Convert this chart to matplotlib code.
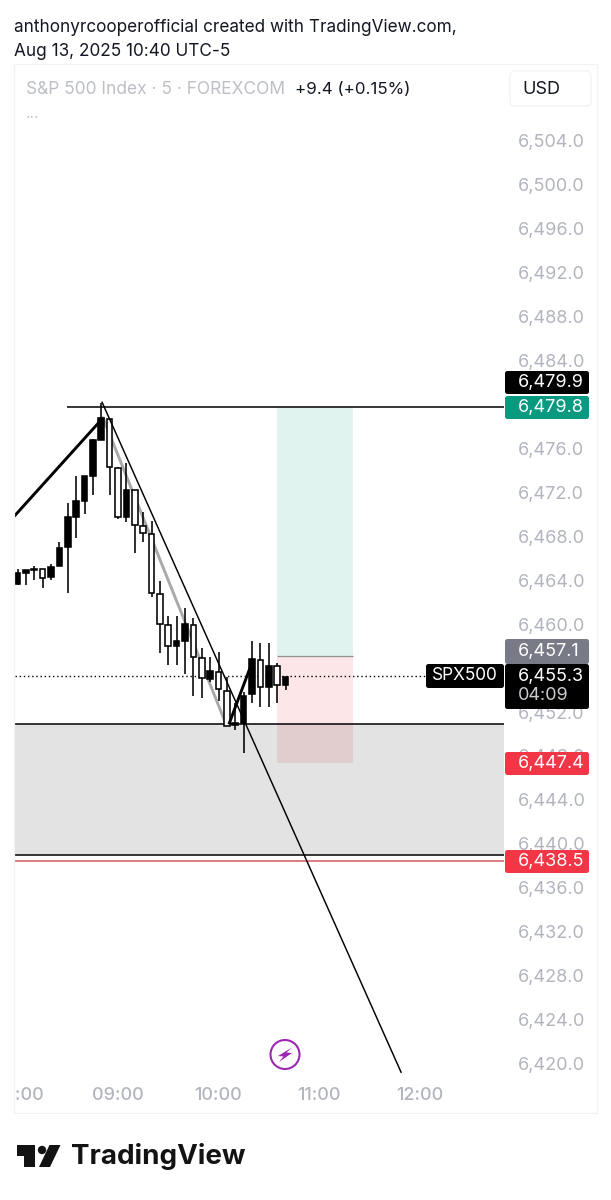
import matplotlib
matplotlib.use("Agg")
import matplotlib.pyplot as plt
from matplotlib.patches import Rectangle, FancyBboxPatch, Circle, Polygon
from matplotlib.transforms import Bbox

plt.rcParams['font.family'] = ['Inter', 'DejaVu Sans']

# bars are 5 minutes, 0 = 09:00
bars = list(range(-12, 21))
opens = [6463.7, 6464.7, 6464.9, 6465.0, 6464.3, 6465.3, 6467.0, 6469.8, 6471.2, 6473.5, 6476.8,
         6478.7, 6474.2, 6469.8, 6472.2, 6468.9, 6468.2, 6462.7, 6459.9, 6458.0, 6458.5,
         6459.9, 6456.9, 6455.0, 6455.6, 6453.9, 6450.8, 6451.0, 6453.6, 6456.7, 6454.3, 6456.2, 6454.5]
closes = [6464.7, 6464.9, 6465.0, 6464.2, 6465.2, 6466.9, 6469.8, 6471.2, 6473.5, 6476.8, 6478.8,
          6474.3, 6469.8, 6472.2, 6469.0, 6468.3, 6462.8, 6460.0, 6458.0, 6458.5, 6460.0,
          6457.0, 6455.1, 6455.7, 6454.1, 6450.7, 6451.0, 6453.5, 6456.8, 6454.3, 6456.2, 6454.5, 6455.2]
highs = [6465.0, 6464.9, 6465.3, 6465.0, 6465.5, 6467.5, 6471.0, 6473.5, 6473.5, 6476.9, 6480.1,
         6478.7, 6474.3, 6474.7, 6472.2, 6470.2, 6469.4, 6463.9, 6460.7, 6460.7, 6461.5,
         6460.6, 6457.8, 6457.0, 6457.5, 6455.2, 6452.8, 6453.8, 6458.5, 6458.3, 6458.3, 6456.5, 6455.2]
lows = [6463.6, 6463.6, 6464.0, 6463.3, 6464.0, 6465.3, 6462.8, 6467.8, 6470.0, 6471.8, 6476.8,
        6471.8, 6469.6, 6469.3, 6466.5, 6467.5, 6462.5, 6457.4, 6456.3, 6456.3, 6455.5,
        6453.5, 6453.3, 6454.7, 6453.0, 6450.7, 6450.4, 6448.3, 6452.8, 6452.5, 6452.5, 6452.8, 6454.0]

price_ticks = list(range(6420, 6508, 4))
time_ticks = [-12, 0, 12, 24, 36]
time_labels = ['08:00', '09:00', '10:00', '11:00', '12:00']

top_level = 6479.8
zone_top = 6450.9
zone_bottom = 6439.0
red_level = 6438.4
last_price = 6455.3
entry = 6457.1
stop = 6447.4
box_start, box_end = 19, 28

# hand drawn lines (bar, price)
thick_x, thick_y = [-12.3, -2.0], [6469.9, 6478.6]
gray_x, gray_y = [-1.8, 12.9], [6478.8, 6450.9]
thick2_x, thick2_y = [13.3, 16.0], [6451.0, 6456.5]
thin_x, thin_y = [-1.9, 33.8], [6480.2, 6419.2]

GRAY = '#b2b5be'
W, H = 611, 1200

fig = plt.figure(figsize=(W / 100, H / 100), dpi=100, facecolor='white')


def pane(l, t, r, b):
    return [l / W, 1 - b / H, (r - l) / W, (b - t) / H]


ax = fig.add_axes(pane(15, 64, 504, 1075))
ax.patch.set_alpha(0)
ax.set_xlim(-12.3, 46.09)
ax.set_ylim(6418.95, 6511.0)
for s in ax.spines.values():
    s.set_visible(False)

# position boxes
ax.add_patch(Rectangle((box_start, entry), box_end - box_start + 0.1, top_level - entry, fc='#e1f3ef', ec='none', zorder=1))
ax.add_patch(Rectangle((box_start, stop), box_end - box_start + 0.1, entry - stop, fc='#fde6e8', ec='none', zorder=1))
ax.hlines(entry, box_start, box_end + 0.1, color='#8f8f8f', lw=0.9, zorder=1.5)

# zone
ax.axhspan(zone_bottom, zone_top, fc='black', alpha=0.11, ec='none', zorder=2)
ax.axhline(zone_top, color='black', lw=1.1, zorder=3)
ax.axhline(zone_bottom, color='black', lw=1.1, zorder=3)
ax.axhline(red_level, color='#d9535f', lw=1.1, zorder=3)
ax.hlines(top_level, -6.1, 46.09, color='black', lw=1.1, zorder=3)
ax.axhline(last_price, color='black', lw=1, ls=(0, (1, 2)), zorder=3)

ax.plot(gray_x, gray_y, color='#a9a9a9', lw=2.1, zorder=4, solid_capstyle='round')

# candles
colors = ['black' if c >= o else 'white' for o, c in zip(opens, closes)]
ax.vlines(bars, lows, highs, color='black', lw=1.15, zorder=5)
ax.bar(bars, [abs(c - o) for o, c in zip(opens, closes)], bottom=[min(o, c) for o, c in zip(opens, closes)],
       width=0.68, color=colors, edgecolor='black', linewidth=1.15, zorder=6)

ax.plot(thick_x, thick_y, color='black', lw=2.1, zorder=7)
ax.plot(thick2_x, thick2_y, color='black', lw=2.1, zorder=7)
ax.plot(thin_x, thin_y, color='black', lw=1.05, zorder=7)

ax.yaxis.tick_right()
ax.set_yticks(price_ticks)
ax.set_yticklabels([f'{p:,.1f}' for p in price_ticks])
ax.tick_params(axis='y', length=0, pad=10, labelsize=13, labelcolor=GRAY)
ax.set_xticks(time_ticks)
ax.set_xticklabels(time_labels)
ax.tick_params(axis='x', length=0, pad=8.5, labelsize=13, labelcolor=GRAY)
for lab in ax.get_xticklabels():
    lab.set_fontweight('medium')
    lab.set_clip_box(Bbox([[15, 0], [W, H]]))
    lab.set_clip_on(True)

# chrome, in pixels of the picture
ov = fig.add_axes([0, 0, 1, 1], zorder=5)
ov.set_xlim(0, W)
ov.set_ylim(H, 0)
ov.axis('off')
ov.patch.set_alpha(0)

ov.add_patch(Rectangle((14, 64), 583, 1049, fc='none', ec='#f0f2f5', lw=0.9))
ov.text(14, 27, 'anthonyrcooperofficial created with TradingView.com,', fontsize=12.35, color='#131722', va='center')
ov.text(14, 51, 'Aug 13, 2025 10:40 UTC-5', fontsize=12.35, color='#131722', va='center')
ov.text(26, 89, 'S&P 500 Index · 5 · FOREXCOM', fontsize=12.5, color='#bcbfc6', va='center')
ov.text(295, 89, '+9.4 (+0.15%)', fontsize=12.2, color='#131722', va='center')
ov.text(26, 114, '...', fontsize=11, color='#c4c6cc', va='center')
ov.add_patch(FancyBboxPatch((510, 71), 81, 35, boxstyle='round,pad=0,rounding_size=5', fc='white', ec='#f0f2f5', lw=0.9))
ov.text(541, 89, 'USD', fontsize=13, color='#131722', va='center', ha='center')


def tag(top, bottom, color, text, left=505, right=589, tx=518, size=13):
    ov.add_patch(FancyBboxPatch((left, top), right - left, bottom - top, boxstyle='round,pad=0,rounding_size=2.5',
                                fc=color, ec='none'))
    ov.text(tx, (top + bottom) / 2, text, color='white', fontsize=size, va='center')


tag(371, 394, 'black', f'{6479.9:,.1f}')
tag(396, 419, '#089981', f'{top_level:,.1f}')
tag(639, 664, '#787b86', f'{entry:,.1f}')
ov.add_patch(FancyBboxPatch((505, 664), 84, 45, boxstyle='round,pad=0,rounding_size=2.5', fc='black', ec='none'))
ov.text(518, 676, f'{last_price:,.1f}', color='white', fontsize=13, va='center')
ov.text(518, 696, '04:09', color='#c9cbd0', fontsize=13, va='center')
tag(752, 775, '#f23645', f'{stop:,.1f}')
tag(850, 873, '#f23645', '6,438.5')
tag(664, 688, 'black', 'SPX500', left=426, right=504, tx=432, size=12.4)

# bolt marker
ov.add_patch(Circle((285, 1054.5), 14.5, fc='white', ec='#9c27b0', lw=1.5))
ov.add_patch(Polygon([[292, 1047.5], [278, 1056], [283.5, 1056.5], [279, 1062], [292, 1053], [286.5, 1052.5]], fc='#9c27b0', ec='none'))

# logo
ov.add_patch(Polygon([[17, 1145], [35, 1145], [35, 1167], [24, 1167], [24, 1156], [17, 1156]], fc='#131313', ec='none'))
ov.add_patch(Circle((42, 1150), 4.2, fc='#131313', ec='none'))
ov.add_patch(Polygon([[49.5, 1145], [60.5, 1145], [50, 1167], [39, 1167]], fc='#131313', ec='none'))
ov.text(71, 1157, 'TradingView', fontsize=20, fontweight='bold', color='#131313', va='center')

fig.savefig('out.png', dpi=100)
